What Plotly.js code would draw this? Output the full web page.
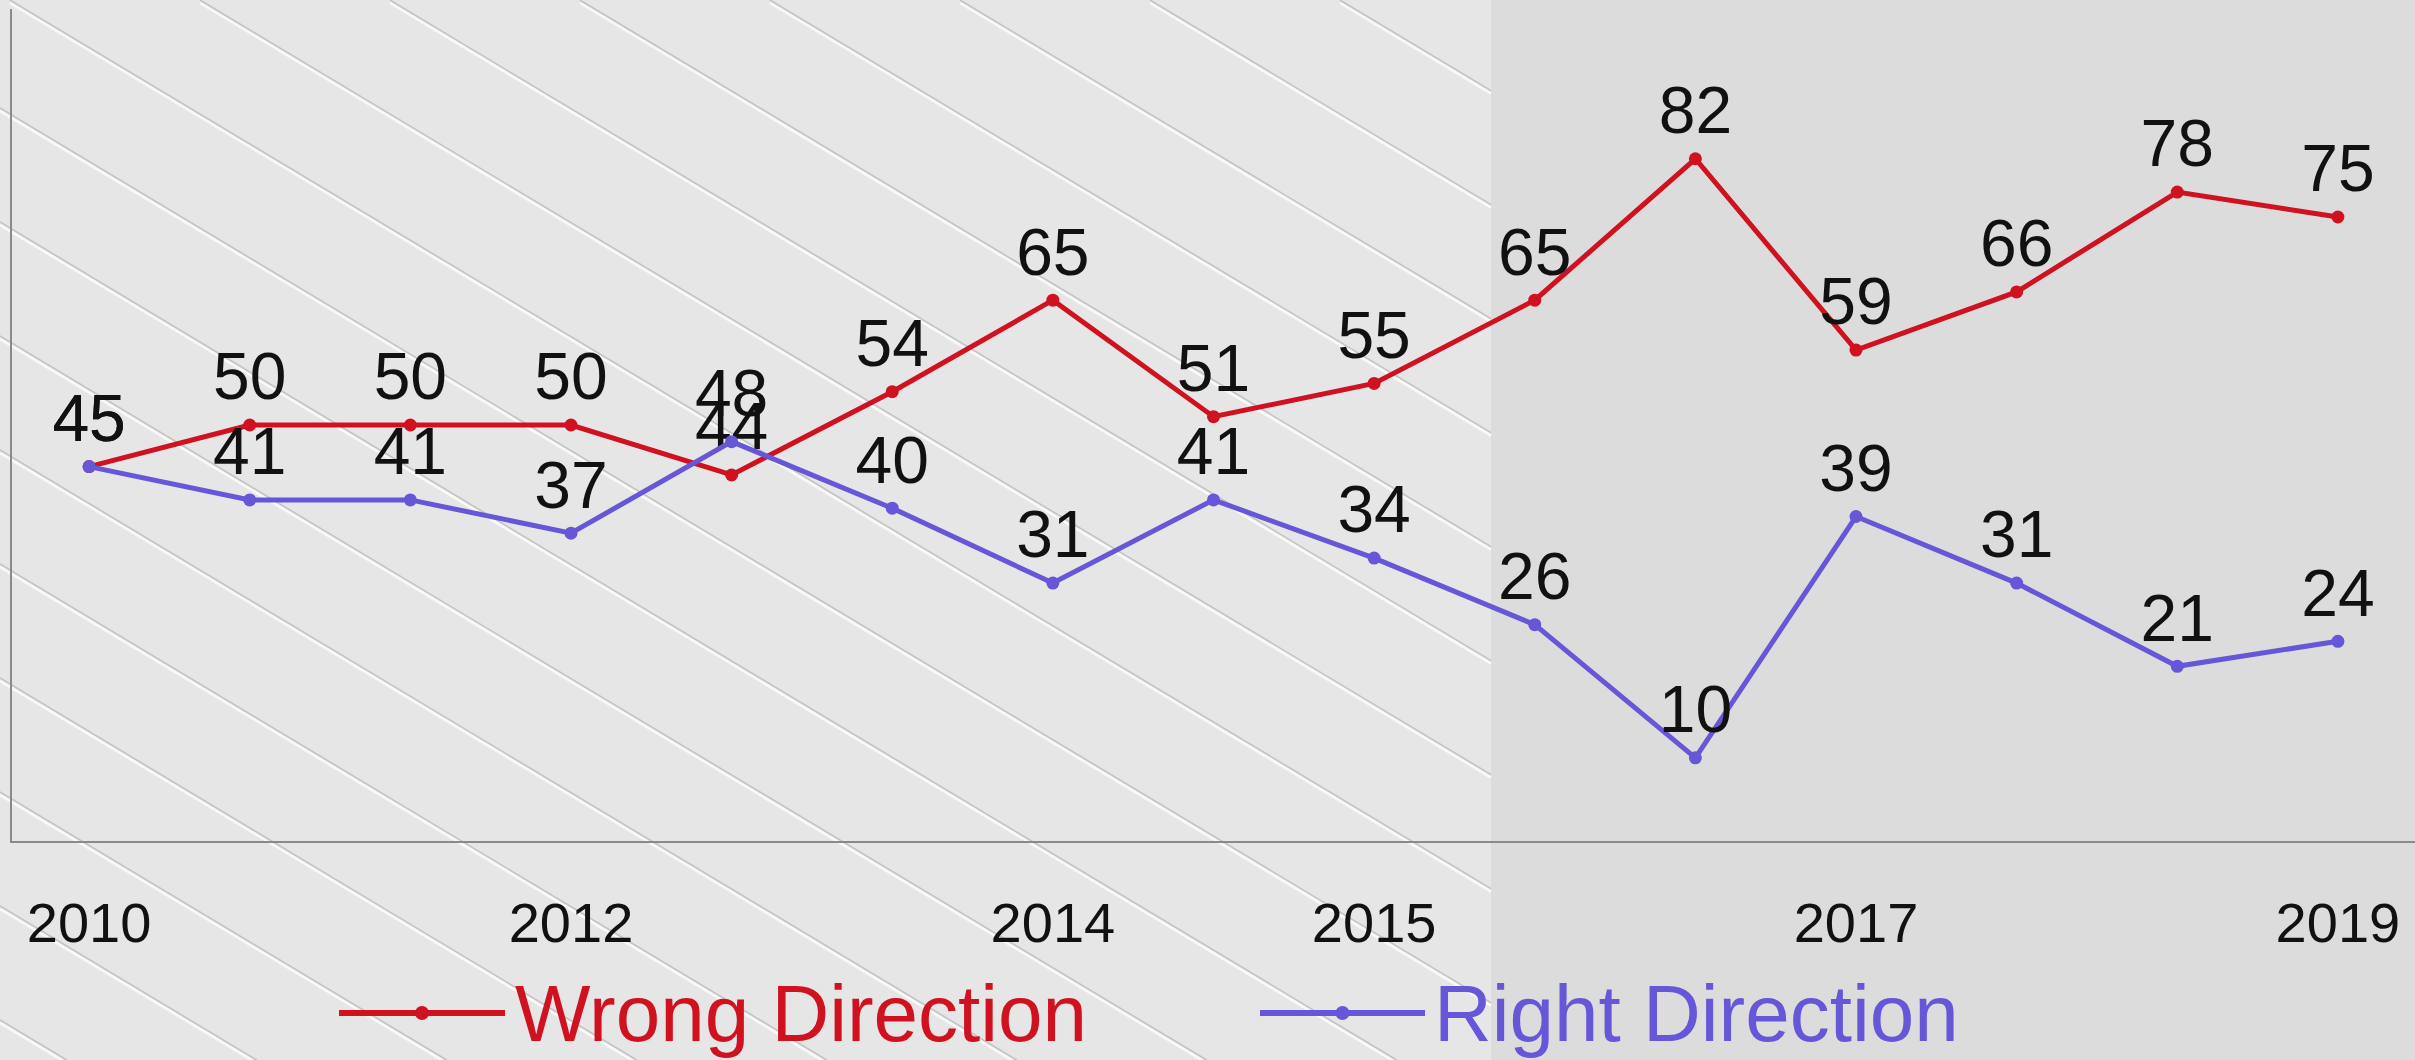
<!DOCTYPE html>
<html>
<head>
<meta charset="utf-8">
<script src="https://cdn.plot.ly/plotly-3.0.1.min.js"></script>
<style>html,body{margin:0;padding:0;background:#e4e4e4;}#chart{width:2415px;height:1060px;}</style>
</head>
<body>
<div id="chart"></div>
<script>
// ---- data ----
const surveyWave = [0, 1, 2, 3, 4, 5, 6, 7, 8, 9, 10, 11, 12, 13, 14];
const wrongDirection = [45, 50, 50, 50, 44, 54, 65, 51, 55, 65, 82, 59, 66, 78, 75];
const rightDirection = [45, 41, 41, 37, 48, 40, 31, 41, 34, 26, 10, 39, 31, 21, 24];
const tickWaves = [0, 3, 6, 8, 11, 14];
const tickLabels = ['2010', '2012', '2014', '2015', '2017', '2019'];
const seriesNames = ['Wrong Direction', 'Right Direction'];

// ---- style ----
const RED = '#cf1120';
const BLUE = '#6656d8';
const W = 2415, H = 1060;
const M = {l: 12, r: 0, t: 9, b: 219};
const PW = W - M.l - M.r, PH = H - M.t - M.b;
const FONT = '"Liberation Sans", Arial, sans-serif';

function px(x) { return (x - M.l) / PW; }
function py(y) { return (H - M.b - y) / PH; }

const traces = [
  {
    x: surveyWave, y: wrongDirection, name: seriesNames[0],
    type: 'scatter', mode: 'lines+markers+text',
    text: wrongDirection.map(String), textposition: 'top center',
    textfont: {family: FONT, size: 66, color: '#111111'},
    line: {color: RED, width: 5},
    marker: {color: RED, size: 13},
    cliponaxis: false, showlegend: false, hoverinfo: 'x+y'
  },
  {
    x: surveyWave, y: rightDirection, name: seriesNames[1],
    type: 'scatter', mode: 'lines+markers+text',
    text: rightDirection.map(String), textposition: 'top center',
    textfont: {family: FONT, size: 66, color: '#111111'},
    line: {color: BLUE, width: 5},
    marker: {color: BLUE, size: 13},
    cliponaxis: false, showlegend: false, hoverinfo: 'x+y'
  }
];

// ---- background decoration ----
const shapes = [];
const texStart = 1491;
shapes.push({type: 'rect', xref: 'paper', yref: 'paper', layer: 'below',
  x0: px(texStart), x1: px(W + 10), y0: py(H + 10), y1: py(-10),
  fillcolor: '#dcdcdc', line: {width: 0}});
shapes.push({type: 'rect', xref: 'paper', yref: 'paper', layer: 'below',
  x0: px(-10), x1: px(texStart), y0: py(H + 10), y1: py(-10),
  fillcolor: '#e6e6e6', line: {width: 0}});
const slope = 0.6;
for (let x0 = -1700; x0 <= 1450; x0 += 190) {
  let sx = x0, sy = 0;
  if (sx < 0) { sy = -sx * slope; sx = 0; }
  let ex = texStart, ey = (texStart - x0) * slope;
  if (ey > H) { ey = H; ex = x0 + H / slope; }
  if (sy >= H || sx >= texStart) continue;
  shapes.push({type: 'line', xref: 'paper', yref: 'paper', layer: 'below',
    x0: px(sx), y0: py(sy), x1: px(ex), y1: py(ey),
    line: {color: 'rgba(130,130,130,0.35)', width: 1.5}});
  shapes.push({type: 'line', xref: 'paper', yref: 'paper', layer: 'below',
    x0: px(sx), y0: py(sy + 3), x1: px(ex), y1: py(ey + 3),
    line: {color: 'rgba(255,255,255,0.75)', width: 2.5}});
}

// ---- legend (drawn) ----
const legendY = 1013;
const legendItems = [
  {x0: 339, x1: 505, tx: 513, color: RED, name: seriesNames[0]},
  {x0: 1260, x1: 1425, tx: 1432, color: BLUE, name: seriesNames[1]}
];
const annotations = [];
legendItems.forEach(it => {
  shapes.push({type: 'line', xref: 'paper', yref: 'paper',
    x0: px(it.x0), x1: px(it.x1), y0: py(legendY), y1: py(legendY),
    line: {color: it.color, width: 6}});
  const cx = (it.x0 + it.x1) / 2;
  shapes.push({type: 'circle', xref: 'paper', yref: 'paper',
    x0: px(cx - 7), x1: px(cx + 7), y0: py(legendY + 7), y1: py(legendY - 7),
    fillcolor: it.color, line: {color: it.color, width: 0}});
  annotations.push({xref: 'paper', yref: 'paper', x: px(it.tx), y: py(legendY),
    xanchor: 'left', yanchor: 'middle', showarrow: false, text: it.name,
    font: {family: FONT, size: 80, color: it.color}});
});

const layout = {
  width: W, height: H,
  margin: M,
  paper_bgcolor: '#e4e4e4',
  plot_bgcolor: 'rgba(0,0,0,0)',
  showlegend: false,
  font: {family: FONT, color: '#111111'},
  xaxis: {
    range: [-0.48, 14.48], showgrid: false, zeroline: false,
    tickmode: 'array', tickvals: tickWaves, ticktext: tickLabels,
    tickfont: {family: FONT, size: 56, color: '#111111'},
    ticks: '', ticklabelstandoff: 32,
    showline: true, linecolor: '#8a8a8a', linewidth: 2
  },
  yaxis: {
    range: [0, 100], showgrid: false, zeroline: false,
    showticklabels: false, ticks: '',
    showline: true, linecolor: '#8a8a8a', linewidth: 2
  },
  shapes: shapes,
  annotations: annotations
};

Plotly.newPlot('chart', traces, layout, {displayModeBar: false, staticPlot: true});
</script>
</body>
</html>
